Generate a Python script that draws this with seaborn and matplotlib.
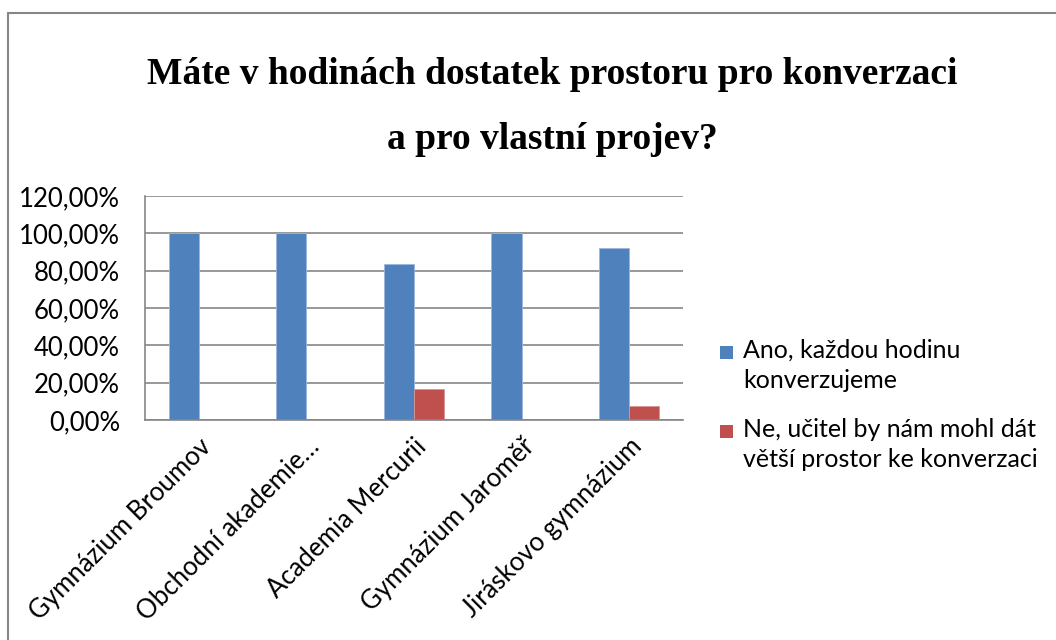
import matplotlib
matplotlib.use("Agg")
import matplotlib.pyplot as plt
import matplotlib.patches as mpatches
from matplotlib.ticker import FuncFormatter, MultipleLocator
import seaborn as sns
import pandas as pd

categories = ["Gymnázium Broumov", "Obchodní akademie…", "Academia Mercurii",
              "Gymnázium Jaroměř", "Jiráskovo gymnázium"]
series_names = ["Ano, každou hodinu\nkonverzujeme",
                "Ne, učitel by nám mohl dát\nvětší prostor ke konverzaci"]
ano = [1.0, 1.0, 0.8333, 1.0, 0.9231]
ne = [0.0, 0.0, 0.1667, 0.0, 0.0769]
colors = ["#4F81BD", "#C0504D"]
title = "Máte v hodinách dostatek prostoru pro konverzaci\na pro vlastní projev?"

df = pd.DataFrame({
    "škola": categories * 2,
    "odpověď": [series_names[0]] * len(categories) + [series_names[1]] * len(categories),
    "podíl": ano + ne,
})

sns.set_theme(style="white")
plt.rcParams["font.family"] = ["Lato", "DejaVu Sans"]

W, H = 1056, 640
fig = plt.figure(figsize=(W / 100, H / 100), dpi=100)
ax = fig.add_axes([145 / W, 1 - 420 / H, 538 / W, 224 / H])

sns.barplot(data=df, x="škola", y="podíl", hue="odpověď", palette=colors,
            width=0.56, ax=ax, saturation=1, edgecolor="#9BB7DD", linewidth=0.6,
            legend=False)
for p in ax.patches[len(categories):2 * len(categories)]:
    p.set_edgecolor("#D99694")

ax.set_ylim(0, 1.2)
ax.set_xlim(-0.5, len(categories) - 0.5)
ax.yaxis.set_major_locator(MultipleLocator(0.2))
ax.yaxis.set_major_formatter(FuncFormatter(lambda v, _: f"{v * 100:.2f}".replace(".", ",") + "%"))
ax.grid(axis="y", color="#868686", linewidth=1.2)
ax.set_axisbelow(True)
for s in ["top", "right"]:
    ax.spines[s].set_visible(False)
for s in ["left", "bottom"]:
    ax.spines[s].set_color("#868686")
    ax.spines[s].set_linewidth(1.2)
ax.set_xlabel("")
ax.set_ylabel("")
ax.tick_params(axis="y", labelsize=18.5, colors="black", length=0, pad=18)
ax.tick_params(axis="x", labelsize=18.5, colors="black", length=0, pad=10)
plt.setp(ax.get_xticklabels(), rotation=45, ha="right", rotation_mode="anchor")

# legend (drawn manually so the marker aligns with the first text line)
leg_y = [352, 431]
for name, col, yc in zip(series_names, colors, leg_y):
    fig.patches.append(mpatches.Rectangle((720 / W, 1 - (yc + 6.5) / H), 13 / W, 13 / H,
                                          transform=fig.transFigure, facecolor=col,
                                          edgecolor="none"))
    fig.text(743 / W, 1 - (yc - 13) / H, name, ha="left", va="top", fontsize=18,
             color="black", linespacing=1.35)

fig.text(552 / W, 1 - 107 / H, title, ha="center", va="center", color="black",
         fontsize=27, fontweight="bold", family="Liberation Serif", linespacing=2.12)

frame = mpatches.Rectangle((8 / W, -0.1), 1.2, 1 - 13 / H + 0.1,
                           transform=fig.transFigure, fill=False,
                           edgecolor="#868686", linewidth=1.5, clip_on=False)
fig.patches.append(frame)

fig.savefig("out.png", dpi=100, facecolor="white")
